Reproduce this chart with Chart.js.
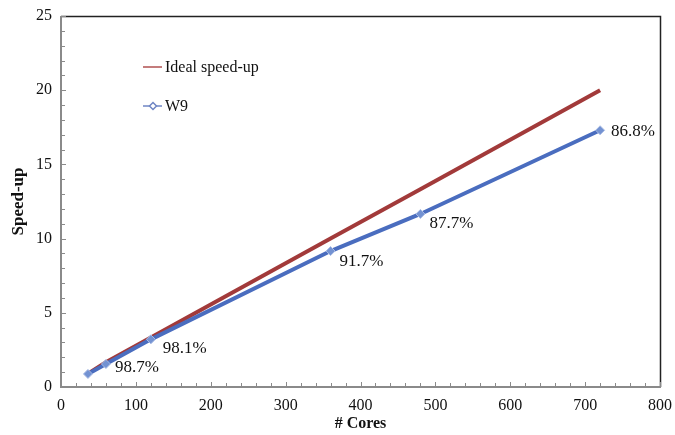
<!DOCTYPE html>
<html>
<head>
<meta charset="utf-8">
<script src="https://cdn.jsdelivr.net/npm/chart.js@4/dist/chart.umd.min.js"></script>
<style>
html,body{margin:0;padding:0;background:#fff;}
#wrap{width:675px;height:435px;position:relative;}
</style>
</head>
<body>
<div id="wrap"><canvas id="c" width="675" height="435"></canvas></div>
<script>
const cores = [36, 60, 120, 360, 480, 720];
const idealSpeedup = [0.9, 1.67, 3.33, 10, 13.33, 20];
const w9Speedup = [0.88, 1.55, 3.21, 9.16, 11.66, 17.3];
const efficiencyLabels = ['', '98.7%', '98.1%', '91.7%', '87.7%', '86.8%'];
const xTicks = [0, 100, 200, 300, 400, 500, 600, 700, 800];
const yTicks = [0, 5, 10, 15, 20, 25];

const SERIF = '"Liberation Serif", "Times New Roman", serif';
const RED = '#a23a3a';
const BLUE = '#4a6dbf';

const frame = {
  id: 'frame',
  afterDraw(chart) {
    const {ctx, chartArea: a, scales: {x, y}} = chart;
    ctx.save();
    ctx.strokeStyle = '#222';
    ctx.lineWidth = 1.5;
    ctx.beginPath();
    ctx.moveTo(a.left, a.top + 0.5); ctx.lineTo(a.right + 0.5, a.top + 0.5); ctx.lineTo(a.right + 0.5, a.bottom);
    ctx.stroke();
    ctx.strokeStyle = '#8a8a8a';
    ctx.lineWidth = 2;
    ctx.beginPath();
    ctx.moveTo(a.left, a.top); ctx.lineTo(a.left, a.bottom); ctx.lineTo(a.right + 1, a.bottom);
    ctx.stroke();
    ctx.lineWidth = 1;
    ctx.beginPath();
    for (let v = 0; v <= 800; v += 20) {
      const px = Math.round(x.getPixelForValue(v)) + 0.5;
      const len = (v % 100 === 0) ? 5 : 4;
      ctx.moveTo(px, a.bottom); ctx.lineTo(px, a.bottom - len);
    }
    for (let v = 0; v <= 25; v += 1) {
      const py = Math.round(y.getPixelForValue(v)) + 0.5;
      const len = (v % 5 === 0) ? 5 : 4;
      ctx.moveTo(a.left, py); ctx.lineTo(a.left + len, py);
    }
    ctx.stroke();
    ctx.restore();
  }
};

const pointLabels = {
  id: 'pointLabels',
  afterDatasetsDraw(chart, args, opts) {
    const {ctx} = chart;
    const meta = chart.getDatasetMeta(1);
    ctx.save();
    ctx.font = '17px ' + SERIF;
    ctx.fillStyle = '#111';
    ctx.textBaseline = 'middle';
    ctx.textAlign = 'left';
    meta.data.forEach((pt, i) => {
      const t = efficiencyLabels[i];
      if (!t) return;
      ctx.fillText(t, pt.x + opts.dx[i], pt.y + opts.dy[i]);
    });
    ctx.restore();
  }
};

const customLegend = {
  id: 'customLegend',
  afterDraw(chart, args, opts) {
    const {ctx} = chart;
    ctx.save();
    ctx.font = '16px ' + SERIF;
    ctx.textBaseline = 'middle';
    chart.data.datasets.forEach((ds, i) => {
      const yy = opts.y[i];
      ctx.strokeStyle = ds.legendColor;
      ctx.lineWidth = 1.5;
      ctx.beginPath();
      ctx.moveTo(opts.x, yy); ctx.lineTo(opts.x + 19, yy);
      ctx.stroke();
      if (i === 1) {
        const cx = opts.x + 10;
        ctx.fillStyle = '#fff';
        ctx.beginPath();
        ctx.moveTo(cx, yy - 3.5); ctx.lineTo(cx + 3.5, yy); ctx.lineTo(cx, yy + 3.5); ctx.lineTo(cx - 3.5, yy); ctx.closePath();
        ctx.fill(); ctx.stroke();
      }
      ctx.fillStyle = '#111';
      ctx.fillText(ds.label, opts.x + 22, yy + 1);
    });
    ctx.restore();
  }
};

new Chart(document.getElementById('c'), {
  type: 'line',
  data: {
    datasets: [
      {
        label: 'Ideal speed-up',
        data: cores.map((c, i) => ({x: c, y: idealSpeedup[i]})),
        borderColor: RED,
        legendColor: '#b05050',
        borderWidth: 4,
        pointRadius: 0,
        tension: 0,
        order: 2
      },
      {
        label: 'W9',
        data: cores.map((c, i) => ({x: c, y: w9Speedup[i]})),
        borderColor: BLUE,
        legendColor: '#6f86c4',
        borderWidth: 4,
        pointStyle: 'rectRot',
        pointRadius: 4.5,
        pointBackgroundColor: '#7392d2',
        pointBorderColor: '#a9bbe3',
        pointBorderWidth: 1,
        tension: 0,
        order: 1
      }
    ]
  },
  options: {
    responsive: false,
    animation: false,
    layout: {padding: {top: 16, right: 15, left: 0, bottom: 0}},
    plugins: {
      legend: {display: false},
      tooltip: {enabled: false},
      pointLabels: {dx: [10, 9, 12, 9, 9, 11], dy: [0, 4, 9, 10, 10, 1]},
      customLegend: {x: 143, y: [67, 106]}
    },
    scales: {
      x: {
        type: 'linear',
        min: 0, max: 800,
        afterBuildTicks: s => { s.ticks = xTicks.map(v => ({value: v})); },
        afterFit: s => { s.height = 48; s.paddingLeft = 0; s.paddingRight = 0; },
        grid: {display: false, drawTicks: false},
        border: {display: false},
        ticks: {font: {family: SERIF, size: 16}, color: '#111', padding: 9, maxRotation: 0},
        title: {display: true, text: '# Cores', font: {family: SERIF, size: 16, weight: 'bold'}, color: '#111', padding: {top: 0, bottom: 2}}
      },
      y: {
        type: 'linear',
        min: 0, max: 25,
        afterBuildTicks: s => { s.ticks = yTicks.map(v => ({value: v})); },
        afterFit: s => { s.width = 61; s.paddingTop = 0; s.paddingBottom = 0; },
        grid: {display: false, drawTicks: false},
        border: {display: false},
        ticks: {font: {family: SERIF, size: 16}, color: '#111', padding: 9},
        title: {display: true, text: 'Speed-up', font: {family: SERIF, size: 17, weight: 'bold'}, color: '#111', padding: {top: 8, bottom: 0}}
      }
    }
  },
  plugins: [frame, pointLabels, customLegend]
});
</script>
</body>
</html>
